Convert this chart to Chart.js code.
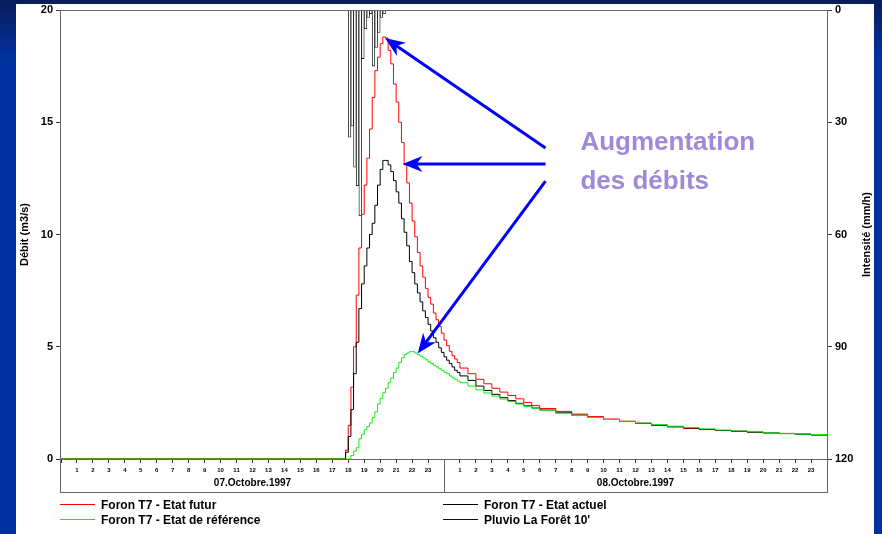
<!DOCTYPE html>
<html lang="fr">
<head>
<meta charset="utf-8">
<title>Foron T7 - débits</title>
<script src="https://cdn.jsdelivr.net/npm/chart.js@4.4.1/dist/chart.umd.min.js"></script>
<style>
  html, body { margin: 0; padding: 0; }
  body {
    width: 882px; height: 534px; overflow: hidden; position: relative;
    background: linear-gradient(to bottom, #0a1c5c 0px, #0033a0 60px, #0033a0 100%);
    font-family: "Liberation Sans", Arial, sans-serif;
  }
  #panel { position: absolute; left: 16px; top: 4px; width: 858px; height: 530px; background: #fff; }
  #graph { position: absolute; left: 0; top: 0; }
  #legend {
    position: absolute; left: 60px; top: 497px;
    display: grid; grid-template-columns: 383px 360px;
    font-weight: bold; font-size: 12px; color: #000;
  }
  .item { display: flex; align-items: center; height: 15px; white-space: nowrap; }
  .swatch { width: 35px; height: 1px; margin-right: 6px; }
</style>
</head>
<body>
<div id="panel"></div>
<canvas id="graph" width="882" height="534"></canvas>
<div id="legend"></div>

<script>
// -------------------------
// DATA
// -------------------------
// hours counted from 07.10.1997 00:00 ("25:30" = 08.10 01:30)
const flowTimes = [
  '00:00',
  '17:50',
  '18:00', '18:10', '18:20', '18:30', '18:40', '18:50',
  '19:00', '19:10', '19:20', '19:30', '19:40', '19:50',
  '20:00', '20:10', '20:20', '20:30', '20:40', '20:50',
  '21:00', '21:10', '21:20', '21:30', '21:40', '21:50',
  '22:00', '22:10', '22:20', '22:30', '22:40', '22:50',
  '23:00', '23:10', '23:20', '23:30', '23:40', '23:50',
  '24:00', '24:10', '24:20', '24:30', '24:40', '24:50',
  '25:00', '25:30', '26:00', '26:30', '27:00', '27:30', '28:00', '28:30', '29:00', '29:30',
  '30:00', '31:00', '32:00', '33:00', '34:00', '35:00', '36:00', '37:00', '38:00', '39:00',
  '40:00', '41:00', '42:00', '43:00', '44:00', '45:00', '46:00', '47:00', '48:00'
];

// débit (m3/s)
const etatFutur = [
  0,
  0.4,
  1.5, 3.2, 5.0, 7.3, 9.4, 10.9,
  12.2, 13.4, 14.7, 16.1, 17.3, 17.9,
  18.5, 18.8, 18.75, 18.2, 17.6, 16.7,
  15.9, 15.0, 14.1, 13.1, 12.3, 11.4,
  10.6, 9.9, 9.2, 8.6, 8.1, 7.6,
  7.2, 6.9, 6.5, 6.2, 5.9, 5.6,
  5.3, 5.05, 4.8, 4.6, 4.45, 4.3,
  4.05, 3.8, 3.55, 3.35, 3.15, 2.98, 2.83, 2.68, 2.52, 2.38,
  2.25, 2.12, 2.0, 1.89, 1.78, 1.68, 1.59, 1.5, 1.43, 1.36,
  1.31, 1.27, 1.24, 1.2, 1.17, 1.14, 1.11, 1.08, 1.07
];

const etatActuel = [
  0,
  0.3,
  1.0, 2.2, 3.8, 5.2, 6.7, 7.8,
  8.6, 9.4, 10.0, 10.5, 11.3, 12.2,
  12.9, 13.3, 13.3, 13.1, 12.8, 12.4,
  11.9, 11.4, 10.7, 10.1, 9.5, 8.8,
  8.3, 7.8, 7.4, 7.0, 6.6, 6.3,
  6.0, 5.7, 5.4, 5.2, 4.95, 4.75,
  4.55, 4.4, 4.25, 4.1, 3.95, 3.85,
  3.7, 3.5, 3.25, 3.05, 2.88, 2.73, 2.6, 2.48, 2.37, 2.27,
  2.18, 2.06, 1.95, 1.85, 1.76, 1.67, 1.59, 1.51, 1.44, 1.38,
  1.32, 1.27, 1.23, 1.19, 1.16, 1.13, 1.1, 1.07, 1.05
];

const etatReference = [
  0,
  0,
  0, 0.15, 0.35, 0.5, 0.9, 1.1,
  1.3, 1.45, 1.6, 1.85, 2.1, 2.45,
  2.7, 2.95, 3.15, 3.4, 3.6, 3.85,
  4.05, 4.3, 4.5, 4.65, 4.72, 4.78,
  4.78, 4.72, 4.65, 4.58, 4.5, 4.42,
  4.33, 4.25, 4.17, 4.1, 4.02, 3.95,
  3.86, 3.8, 3.7, 3.62, 3.55, 3.47,
  3.4, 3.25, 3.08, 2.94, 2.8, 2.67, 2.56, 2.45, 2.35, 2.26,
  2.17, 2.04, 1.94, 1.85, 1.76, 1.68, 1.6, 1.53, 1.46, 1.4,
  1.34, 1.29, 1.25, 1.21, 1.17, 1.14, 1.11, 1.09, 1.07
];

// pluie 10' (mm/h), start of each 10-minute step
const rainTimes = ['18:00', '18:10', '18:20', '18:30', '18:40', '18:50', '19:00',
                   '19:10', '19:20', '19:30', '19:40', '19:50', '20:00', '20:10'];
const rainValues = [34, 31, 42, 47, 55, 13, 5, 2, 1, 15, 10, 6, 2, 1];

const seriesLabels = ['Foron T7 - Etat futur', 'Foron T7 - Etat actuel',
                      'Foron T7 - Etat de référence', "Pluvio La Forêt 10'"];
const dayLabels = ['07.Octobre.1997', '08.Octobre.1997'];
const dayCenters = [12, 36];

// annotations, in (hour, m3/s)
const arrows = [
  { from: [30.36, 13.85], to: [20.3, 18.75] },
  { from: [30.36, 13.14], to: [21.4, 13.14] },
  { from: [30.36, 12.38], to: [22.35, 4.7] }
];
const notes = [
  { text: 'Augmentation', at: [32.55, 14.1] },
  { text: 'des débits', at: [32.55, 12.35] }
];

// -------------------------
// HELPERS
// -------------------------
function toHours(t) {
  const [h, m] = t.split(':').map(Number);
  return h + m / 60;
}

function toPoints(values) {
  return values.map((v, i) => ({ x: toHours(flowTimes[i]), y: v }));
}

function drawArrow(ctx, x1, y1, x2, y2) {
  const ang = Math.atan2(y2 - y1, x2 - x1);
  const c = Math.cos(ang), s = Math.sin(ang);
  const len = 20, half = 8;
  const bx = x2 - len * c, by = y2 - len * s;
  ctx.beginPath();
  ctx.moveTo(x1, y1);
  ctx.lineTo(x2 - 12 * c, y2 - 12 * s);
  ctx.stroke();
  ctx.beginPath();
  ctx.moveTo(x2, y2);
  ctx.lineTo(bx - half * s, by + half * c);
  ctx.lineTo(x2 - 0.7 * len * c, y2 - 0.7 * len * s);
  ctx.lineTo(bx + half * s, by - half * c);
  ctx.closePath();
  ctx.fill();
}

// -------------------------
// PLUGINS
// -------------------------
const framePlugin = {
  id: 'frame',
  afterDraw(chart) {
    const { ctx, chartArea: a, scales } = chart;
    const boxBottom = Math.round(scales.xDay.bottom);
    const split = Math.round(scales.x.getPixelForValue(24)) + 0.5;
    ctx.save();
    ctx.strokeStyle = '#666';
    ctx.lineWidth = 1;
    ctx.strokeRect(a.left - 0.5, a.top + 0.5, a.right - a.left + 1, boxBottom - a.top - 1);
    ctx.beginPath();
    ctx.moveTo(a.left, a.bottom + 0.5);
    ctx.lineTo(a.right, a.bottom + 0.5);
    ctx.moveTo(split, a.bottom);
    ctx.lineTo(split, boxBottom);
    ctx.stroke();

    // right axis title, read bottom to top
    ctx.fillStyle = '#000';
    ctx.font = 'bold 11px "Liberation Sans", Arial, sans-serif';
    ctx.textAlign = 'center';
    ctx.textBaseline = 'middle';
    ctx.translate(scales.y2.right - 7, (a.top + a.bottom) / 2);
    ctx.rotate(-Math.PI / 2);
    ctx.fillText('Intensité (mm/h)', 0, 0);
    ctx.restore();
  }
};

const annotationPlugin = {
  id: 'annotations',
  afterDraw(chart) {
    const { ctx, scales: { x, y } } = chart;
    ctx.save();
    ctx.strokeStyle = '#0000ff';
    ctx.fillStyle = '#0000ff';
    ctx.lineWidth = 3;
    arrows.forEach(a => drawArrow(ctx,
      x.getPixelForValue(a.from[0]), y.getPixelForValue(a.from[1]),
      x.getPixelForValue(a.to[0]), y.getPixelForValue(a.to[1])));

    ctx.fillStyle = '#9f8ad9';
    ctx.font = 'bold 26px "Liberation Sans", Arial, sans-serif';
    ctx.textAlign = 'left';
    ctx.textBaseline = 'middle';
    notes.forEach(n => ctx.fillText(n.text, x.getPixelForValue(n.at[0]), y.getPixelForValue(n.at[1])));
    ctx.restore();
  }
};

// -------------------------
// CHART
// -------------------------
Chart.defaults.font.family = '"Liberation Sans", Arial, sans-serif';
Chart.defaults.font.weight = 'bold';
Chart.defaults.color = '#000';

const seriesColors = ['#ff0000', '#000000', '#11ee11', '#111111'];

function lineDataset(i, values) {
  return {
    type: 'line',
    label: seriesLabels[i],
    data: toPoints(values),
    borderColor: seriesColors[i],
    borderWidth: 1,
    pointRadius: 0,
    stepped: true,
    fill: false,
    yAxisID: 'y',
    order: 3 - i
  };
}

const chart = new Chart(document.getElementById('graph'), {
  type: 'line',
  data: {
    datasets: [
      lineDataset(0, etatFutur),
      lineDataset(1, etatActuel),
      lineDataset(2, etatReference),
      {
        type: 'bar',
        label: seriesLabels[3],
        data: rainValues.map((v, i) => ({ x: toHours(rainTimes[i]) + 5 / 60, y: v })),
        backgroundColor: '#ffffff',
        borderColor: seriesColors[3],
        borderWidth: 0.85,
        barPercentage: 1,
        categoryPercentage: 1,
        yAxisID: 'y2',
        order: 10
      }
    ]
  },
  options: {
    responsive: false,
    animation: false,
    layout: { padding: { left: 16, right: 8, top: 10, bottom: 41 } },
    plugins: { legend: { display: false }, tooltip: { enabled: false } },
    scales: {
      x: {
        type: 'linear', position: 'bottom', min: 0, max: 48, offset: false,
        weight: 0,
        grid: { drawOnChartArea: false, offset: false, color: '#333', tickLength: 4 },
        border: { display: false },
        ticks: {
          stepSize: 1, maxTicksLimit: 100, autoSkip: false, maxRotation: 0, padding: 4,
          font: { size: 6, weight: 'bold' },
          callback: v => (v % 24 === 0 ? '' : String(v % 24))
        },
        afterFit: s => { s.height = 17; }
      },
      xDay: {
        type: 'linear', position: 'bottom', min: 0, max: 48, offset: false,
        weight: 1,
        grid: { display: false, drawTicks: false },
        border: { display: false },
        ticks: {
          autoSkip: false, maxRotation: 0, padding: 1,
          font: { size: 10, weight: 'bold' },
          callback: (v, i) => dayLabels[i]
        },
        afterBuildTicks: s => { s.ticks = dayCenters.map(v => ({ value: v })); },
        afterFit: s => { s.height = 17; }
      },
      y: {
        position: 'left', min: 0, max: 20,
        grid: { drawOnChartArea: false, color: '#333', tickLength: 5 },
        border: { display: false },
        ticks: { stepSize: 5, padding: 3, font: { size: 11, weight: 'bold' } },
        title: { display: true, text: 'Débit (m3/s)', font: { size: 11, weight: 'bold' }, padding: { top: 2, bottom: 0 } },
        afterFit: s => { s.width = 45; }
      },
      y2: {
        position: 'right', min: 0, max: 120, reverse: true,
        grid: { drawOnChartArea: false, color: '#333', tickLength: 5 },
        border: { display: false },
        ticks: { stepSize: 30, padding: 3, font: { size: 11, weight: 'bold' } },
        afterFit: s => { s.width = 47; }
      }
    }
  },
  plugins: [framePlugin, annotationPlugin]
});

// -------------------------
// LEGEND (two columns, like the original)
// -------------------------
const legend = document.getElementById('legend');
chart.data.datasets.forEach(ds => {
  const item = document.createElement('div');
  item.className = 'item';
  const sw = document.createElement('span');
  sw.className = 'swatch';
  sw.style.background = ds.borderColor;
  const txt = document.createElement('span');
  txt.textContent = ds.label;
  item.appendChild(sw);
  item.appendChild(txt);
  legend.appendChild(item);
});
</script>
</body>
</html>
